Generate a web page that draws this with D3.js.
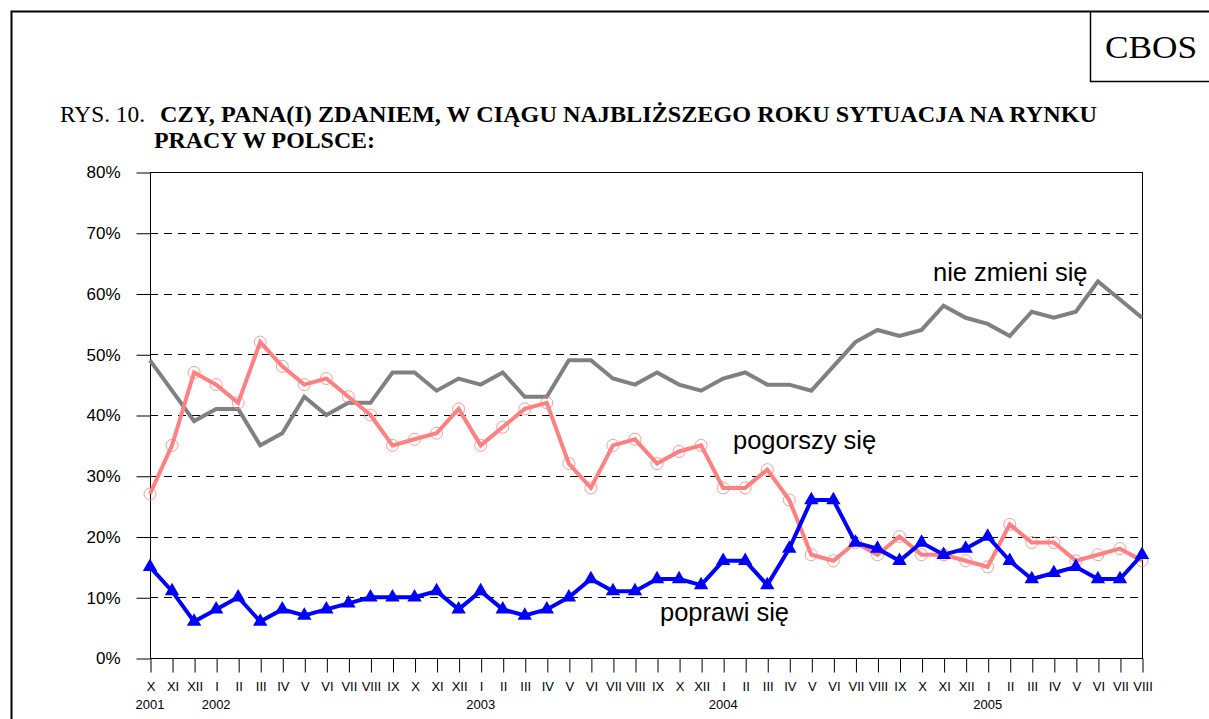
<!DOCTYPE html>
<html>
<head>
<meta charset="utf-8">
<script src="https://cdn.jsdelivr.net/npm/d3@7"></script>
<style>
  body { margin: 0; background: #fff; }
  svg { display: block; }
</style>
</head>
<body>
<svg id="chart" width="1209" height="719"></svg>
<script>
// months X 2001 .. VIII 2005 (XI 2003 missing in survey)
const months = ['X','XI','XII','I','II','III','IV','V','VI','VII','VIII','IX','X','XI','XII',
  'I','II','III','IV','V','VI','VII','VIII','IX','X','XII',
  'I','II','III','IV','V','VI','VII','VIII','IX','X','XI','XII',
  'I','II','III','IV','V','VI','VII','VIII'];
const years = [[0, '2001'], [3, '2002'], [15, '2003'], [26, '2004'], [38, '2005']];

const nieZmieni = [49,44,39,41,41,35,37,43,40,42,42,47,47,44,46,45,47,43,43,49,49,46,45,47,45,44,
  46,47,45,45,44,48,52,54,53,54,58,56,55,53,57,56,57,62,59,56];
const pogorszy = [27,35,47,45,42,52,48,45,46,43,40,35,36,37,41,35,38,41,42,32,28,35,36,32,34,35,
  28,28,31,26,17,16,19,17,20,17,17,16,15,22,19,19,16,17,18,16];
const poprawi = [15,11,6,8,10,6,8,7,8,9,10,10,10,11,8,11,8,7,8,10,13,11,11,13,13,12,
  16,16,12,18,26,26,19,18,16,19,17,18,20,16,13,14,15,13,13,17];

const yTicks = [0, 10, 20, 30, 40, 50, 60, 70, 80];

const svg = d3.select('#chart');
const plotL = 150, plotR = 1142, plotT = 172, plotB = 658;
const serif = 'Liberation Serif, Times New Roman, serif';
const sans = 'Liberation Sans, Arial, sans-serif';

const x = d3.scaleLinear().domain([0, months.length - 1]).range([plotL, plotR]);
const y = d3.scaleLinear().domain([0, 80]).range([plotB, plotT]);

// page frame
svg.append('path').attr('d', 'M11.5,719 V11.5 H1209').attr('fill', 'none').attr('stroke', '#000').attr('stroke-width', 2);
svg.append('path').attr('d', 'M1090.5,11.5 V81.5 H1209').attr('fill', 'none').attr('stroke', '#000').attr('stroke-width', 1.5);
svg.append('text').attr('x', 1105).attr('y', 58)
  .attr('font-family', serif).attr('font-size', 31)
  .attr('textLength', 92).attr('lengthAdjust', 'spacingAndGlyphs').text('CBOS');

// title
svg.append('text').attr('font-family', serif).attr('font-size', 23)
  .attr('x', 60).attr('y', 122).attr('textLength', 85).attr('lengthAdjust', 'spacingAndGlyphs').text('RYS. 10.');
svg.append('text').attr('font-family', serif).attr('font-size', 23).attr('font-weight', 'bold')
  .attr('x', 160).attr('y', 122).attr('textLength', 937).attr('lengthAdjust', 'spacingAndGlyphs')
  .text('CZY, PANA(I) ZDANIEM, W CIĄGU NAJBLIŻSZEGO ROKU SYTUACJA NA RYNKU');
svg.append('text').attr('font-family', serif).attr('font-size', 23).attr('font-weight', 'bold')
  .attr('x', 154).attr('y', 148).attr('textLength', 221).attr('lengthAdjust', 'spacingAndGlyphs')
  .text('PRACY W POLSCE:');

// grid
svg.append('g').selectAll('line').data(yTicks.filter(d => d > 0 && d < 80)).join('line')
  .attr('x1', plotL).attr('x2', plotR)
  .attr('y1', d => Math.round(y(d)) + 0.5).attr('y2', d => Math.round(y(d)) + 0.5)
  .attr('stroke', '#000').attr('stroke-dasharray', '8,6');

// plot border
svg.append('rect').attr('x', plotL + 0.5).attr('y', plotT + 0.5).attr('width', plotR - plotL).attr('height', plotB - plotT)
  .attr('fill', 'none').attr('stroke', '#000');

// y axis
const yAxis = svg.append('g').attr('transform', `translate(${plotL + 0.5},0.5)`)
  .call(d3.axisLeft(y).tickValues(yTicks).tickSize(14).tickPadding(16).tickFormat(d => d + '%'));
yAxis.select('.domain').remove();
yAxis.selectAll('text').attr('font-family', sans).attr('font-size', 17).attr('fill', '#000');

// x axis
const xAxis = svg.append('g').attr('transform', `translate(0.5,${plotB + 0.5})`)
  .call(d3.axisBottom(x).tickValues(d3.range(months.length)).tickSize(14).tickPadding(9).tickFormat(i => months[i]));
xAxis.select('.domain').remove();
xAxis.selectAll('text').attr('font-family', sans).attr('font-size', 13).attr('fill', '#000');

svg.append('g').selectAll('text').data(years).join('text')
  .attr('x', d => x(d[0])).attr('y', 709).attr('text-anchor', 'middle')
  .attr('font-family', sans).attr('font-size', 13).text(d => d[1]);

const line = d3.line().x((d, i) => x(i)).y(d => y(d));

// gray
svg.append('path').datum(nieZmieni).attr('d', line).attr('fill', 'none')
  .attr('stroke', '#808080').attr('stroke-width', 4);

// pink
svg.append('path').datum(pogorszy).attr('d', line).attr('fill', 'none')
  .attr('stroke', '#FF8080').attr('stroke-width', 4);
svg.append('g').selectAll('circle').data(pogorszy).join('circle')
  .attr('cx', (d, i) => x(i)).attr('cy', d => y(d)).attr('r', 6)
  .attr('fill', 'none').attr('stroke', '#FF8080').attr('stroke-width', 0.8);

// blue
svg.append('path').datum(poprawi).attr('d', line).attr('fill', 'none')
  .attr('stroke', '#0000FF').attr('stroke-width', 4);
const tri = d3.symbol().type(d3.symbolTriangle).size(90);
svg.append('g').selectAll('path').data(poprawi).join('path')
  .attr('transform', (d, i) => `translate(${x(i)},${y(d)})`).attr('d', tri).attr('fill', '#0000FF');

// series labels
const lab = [['nie zmieni się', 933, 281], ['pogorszy się', 733, 449], ['poprawi się', 660, 621]];
svg.append('g').selectAll('text').data(lab).join('text')
  .attr('x', d => d[1]).attr('y', d => d[2])
  .attr('font-family', sans).attr('font-size', 25.5).text(d => d[0]);
</script>
</body>
</html>
